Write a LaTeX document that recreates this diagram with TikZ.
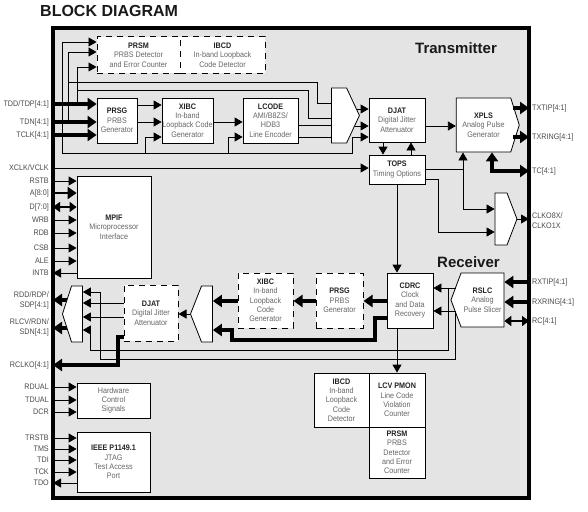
\documentclass[tikz,border=0pt]{standalone}
\usepackage{fontspec}
\setmainfont{Liberation Sans}[FakeStretch=0.9]
\newfontfamily\headfont{Liberation Sans}
\usetikzlibrary{arrows.meta,positioning,calc,shapes.symbols}
\definecolor{bdfill}{HTML}{E4E4E4}
\definecolor{bdpin}{HTML}{4A4A4A}
\definecolor{bddesc}{HTML}{666666}
\definecolor{bdhead}{HTML}{222222}
\newcommand{\bhd}[1]{{\color{bdhead}\bfseries #1}}

\begin{document}
\begin{tikzpicture}[x=1pt, y=-1pt,
  blk/.style={draw=black, line width=0.8pt, fill=white, inner sep=0pt,
    align=center, font=\fontsize{8}{9.3}\selectfont, text=bddesc},
  dblk/.style={blk, line width=1pt, dash pattern=on 6pt off 5pt},
  mux/.style={signal, draw=black, line width=0.8pt, fill=white, inner sep=0pt},
  pinl/.style={anchor=east, inner sep=0pt, align=right,
    font=\fontsize{8}{10}\selectfont, text=bdpin},
  pinr/.style={pinl, anchor=west, align=left},
  wire/.style={line width=0.8pt},
  arr/.style={wire, -{Triangle[length=8pt,width=9pt]}},
  bus/.style={line width=3.6pt},
  busarr/.style={bus, -{Triangle[length=9pt,width=12pt]}},
  bibus/.style={line width=2.6pt, {Triangle[length=7pt,width=10pt]}-{Triangle[length=7pt,width=10pt]}},
]
\useasboundingbox (0,0) rectangle (588,511);

%% ---- chip outline and headings ----
\node[draw=black, line width=4.5pt, fill=bdfill, inner sep=0pt, outer sep=0pt,
  minimum width=476pt, minimum height=470pt] (chip) at (291,263) {};
\node[anchor=base west, inner sep=0pt, font=\headfont\bfseries\fontsize{16}{16}\selectfont,
  text=black!90] (title) at (40,17) {BLOCK DIAGRAM};
\node[anchor=base west, inner sep=0pt, font=\headfont\bfseries\fontsize{15}{15}\selectfont,
  text=black!90] (txhd) at (415,53) {Transmitter};
\node[anchor=base west, inner sep=0pt, font=\headfont\bfseries\fontsize{15}{15}\selectfont,
  text=black!90] (rxhd) at (437,267) {Receiver};

%% ---- transmitter blocks ----
\node[dblk, minimum width=83pt, minimum height=36pt] (tprsm) at (138.5,55) {\bhd{PRSM}\\PRBS Detector\\and Error Counter};
\node[dblk, minimum width=85pt, minimum height=36pt] (tibcd) at (222.5,55) {\bhd{IBCD}\\In-band Loopback\\Code Detector};
\node[blk, minimum width=40pt, minimum height=45pt] (tprsg) at (117,120.5) {\bhd{PRSG}\\PRBS\\Generator};
\node[blk, minimum width=51pt, minimum height=45pt] (txibc) at (187.5,120.5) {\bhd{XIBC}\\In-band\\Loopback Code\\Generator};
\node[blk, minimum width=55pt, minimum height=45pt] (tlcode) at (270.5,120.5) {\bhd{LCODE}\\AMI/B8ZS/\\HDB3\\Line Encoder};
\node[mux, signal to=east, signal pointer angle=130, minimum width=28pt, minimum height=55pt] (txmux) at (339,115.5) {};
\node[blk, minimum width=56pt, minimum height=44pt] (tdjat) at (397,120) {\bhd{DJAT}\\Digital Jitter\\Attenuator};
\node[blk, signal, signal to=east, signal pointer angle=145, minimum width=63pt, minimum height=54pt] (xpls) at (483.5,125) {\bhd{XPLS}\\Analog Pulse\\Generator};
\node[blk, minimum width=56pt, minimum height=29pt] (tops) at (397,169.5) {\bhd{TOPS}\\Timing Options};
\node[mux, signal to=east, signal pointer angle=138, minimum width=22pt, minimum height=52pt] (ckmux) at (501,219) {};

%% ---- receiver blocks ----
\node[blk, minimum width=46pt, minimum height=55pt] (cdrc) at (410,300.5) {\bhd{CDRC}\\Clock\\and Data\\Recovery};
\node[blk, signal, signal to=west, signal pointer angle=139, minimum width=53pt, minimum height=54pt] (rslc) at (482.5,300) {\bhd{RSLC}\\Analog\\Pulse Slicer};
\node[dblk, minimum width=47pt, minimum height=55pt] (rprsg) at (339.5,300.5) {\bhd{PRSG}\\PRBS\\Generator};
\node[dblk, minimum width=55pt, minimum height=55pt] (rxibc) at (265.5,300.5) {\bhd{XIBC}\\In-band\\Loopback\\Code\\Generator};
\node[mux, signal to=west, signal pointer angle=137, minimum width=22pt, minimum height=56pt] (rmux2) at (207,314) {};
\node[dblk, minimum width=54pt, minimum height=56pt] (rdjat) at (151,313) {\bhd{DJAT}\\Digital Jitter\\Attenuator};
\node[mux, signal to=west, signal pointer angle=144, minimum width=20pt, minimum height=56pt] (rmux1) at (77,314) {};
\node[blk, minimum width=55pt, minimum height=54pt] (ibcd) at (341.5,400) {\bhd{IBCD}\\In-band\\Loopback\\Code\\Detector};
\node[blk, minimum width=56pt, minimum height=54pt] (lcv) at (397,400) {\bhd{LCV PMON}\\Line Code\\Violation\\Counter};
\node[blk, minimum width=56pt, minimum height=51pt] (rprsm) at (397,452.5) {\bhd{PRSM}\\PRBS\\Detector\\and Error\\Counter};

%% ---- control blocks ----
\node[blk, minimum width=74pt, minimum height=102pt] (mpif) at (114,227) {\bhd{MPIF}\\Microprocessor\\Interface};
\node[blk, minimum width=73pt, minimum height=35pt] (hwc) at (113.5,400.5) {Hardware\\Control\\Signals};
\node[blk, minimum width=73pt, minimum height=60pt] (jtag) at (113.5,462) {\bhd{IEEE P1149.1}\\JTAG\\Test Access\\Port};

%% ---- pin labels ----
\node[pinl] (ltdd)  at (49,104) {TDD/TDP[4:1]};
\node[pinl] (ltdn)  at (49,122) {TDN[4:1]};
\node[pinl] (ltclk) at (49,135) {TCLK[4:1]};
\node[pinl] (lxclk) at (49,168) {XCLK/VCLK};
\node[pinl] (lrdd)  at (49,300) {RDD/RDP/\\SDP[4:1]};
\node[pinl] (lrlcv) at (49,327) {RLCV/RDN/\\SDN[4:1]};
\node[pinl] (lrclko) at (49,365) {RCLKO[4:1]};
\node[pinr] (rtxtip)  at (532,108) {TXTIP[4:1]};
\node[pinr] (rtxring) at (532,137) {TXRING[4:1]};
\node[pinr] (rtc)     at (532,171) {TC[4:1]};
\node[pinr] (rclko)   at (532,220.5) {CLKO8X/\\CLKO1X};
\node[pinr] (rrxtip)  at (532,282) {RXTIP[4:1]};
\node[pinr] (rrxring) at (532,302) {RXRING[4:1]};
\node[pinr] (rrc)     at (532,321) {RC[4:1]};

%% ---- transmitter inputs and taps ----
\draw[busarr] (chip.west |- ltdd)  -- (tprsg.west |- ltdd);
\draw[busarr] (chip.west |- ltdn)  -- (tprsg.west |- ltdn);
\draw[busarr] (chip.west |- ltclk) -- (tprsg.west |- ltclk);
\coordinate (tapc) at (62,153);
\coordinate (tapn) at (68,0 |- ltdn);
\coordinate (tapd) at (77,0 |- ltdd);
\draw[arr] (tapc) |- ([yshift=13pt]tprsm.west);
\draw[arr] (tapn) |- ([yshift=3pt]tprsm.west);
\draw[arr] (tapd) |- ([yshift=-12pt]tprsm.west);
\draw[wire] (tapn |- 0,82) -- (317,82) -- (317,103) -- (txmux.west |- 0,103);
\draw[wire] (tapd |- 0,90) -- (308,90) -- (308,118) -- (txmux.west |- 0,118);
\draw[arr] (tapc) -| (352,137) -- (tdjat.west |- 0,137);
\draw[arr] (145,0 |- tapc) |- (txibc.west |- 0,137);
\draw[arr] (228,0 |- tapc) |- (tlcode.west |- 0,137);

%% ---- transmitter data path ----
\draw[arr] (tprsg.east |- 0,105) -- (txibc.west |- 0,105);
\draw[arr] (tprsg.east |- 0,122) -- (txibc.west |- 0,122);
\draw[arr] (txibc.east |- 0,122) -- (tlcode.west |- 0,122);
\draw[wire] (tlcode.east |- 0,125) -- (txmux.west |- 0,125);
\draw[wire] (tlcode.east |- 0,137) -- (txmux.west |- 0,137);
\draw[arr] ([xshift=-3pt]txmux.east |- 0,109) -- (tdjat.west |- 0,109);
\draw[arr] ([xshift=-5pt]txmux.east |- 0,126) -- (tdjat.west |- 0,126);
\draw[arr] (tdjat.east |- 0,126) -- (xpls.west |- 0,126);
\draw[busarr] ([xshift=-7pt]xpls.east |- rtxtip) -- (chip.east |- rtxtip);
\draw[busarr] ([xshift=-7pt]xpls.east |- rtxring) -- (chip.east |- rtxring);
\draw[bus, {Triangle[length=9pt,width=12pt]}-{Triangle[length=9pt,width=12pt]}]
  (xpls.south -| 492,0) |- (chip.east |- rtc);

%% ---- timing ----
\draw[arr] (tdjat.south -| 383,0) -- (tops.north -| 383,0);
\draw[arr] (tops.north -| 411,0) -- (tdjat.south -| 411,0);
\draw[arr] (chip.west |- lxclk) -- (tops.west |- lxclk);
\coordinate (ckbr) at (463,169);
\draw[wire] (tops.east |- ckbr) -- (ckbr);
\draw[arr] (ckbr) -- (xpls.south -| ckbr);
\draw[arr] (ckbr) |- (ckmux.west |- 0,209);
\draw[arr] (tops.east |- 0,179) -| (438,232) -- (ckmux.west |- 0,232);
\draw[arr] (ckmux.east) -- (chip.east |- ckmux.east);
\draw[arr] (tops.south -| 397,0) -- (cdrc.north -| 397,0);

%% ---- receiver path ----
\draw[busarr] (chip.east |- rrxtip) -- (rslc.east |- rrxtip);
\draw[busarr] (chip.east |- rrxring) -- (rslc.east |- rrxring);
\draw[bibus] (chip.east |- rrc) -- (rslc.east |- rrc);
\draw[arr] ([xshift=5pt]rslc.west |- 0,288) -- (cdrc.east |- 0,288);
\draw[arr] ([xshift=4pt]rslc.west |- 0,311) -- (cdrc.east |- 0,311);
\coordinate (rb1) at (448,288);
\coordinate (rb2) at (455,311);
\draw[arr] (rb1) |- (90,350) |- (rmux1.east |- 0,330);
\draw[arr] (rb2) |- (100,359) |- (rmux1.east |- 0,292);
\draw[busarr] (cdrc.west |- 0,301) -- (rprsg.east |- 0,301);
\draw[busarr] (rprsg.west |- 0,301) -- (rxibc.east |- 0,301);
\draw[busarr] (rxibc.west |- 0,301) -- (rmux2.east |- 0,301);
\draw[busarr] (cdrc.west |- 0,318) -- (375,318) -- (375,340) -- (232,340) -- (232,330) -- (rmux2.east |- 0,330);
\draw[arr] (rmux2.west) -- (rdjat.east |- rmux2.west);
\draw[arr] (rdjat.west |- 0,303) -- (rmux1.east |- 0,303);
\draw[arr] (rdjat.west |- 0,317) -- (rmux1.east |- 0,317);
\draw[busarr] ([xshift=5pt]rmux1.west |- 0,300) -- (chip.west |- 0,300);
\draw[busarr] ([xshift=5pt]rmux1.west |- 0,328) -- (chip.west |- 0,328);
\draw[busarr] (rdjat.west |- 0,337) -- (118,337) -- (118,365) -- (chip.west |- lrclko);
\draw[arr] (cdrc.south -| 397,0) -- (lcv.north -| 397,0);

%% ---- microprocessor, hardware and JTAG pins ----
\foreach \nm/\yy in {RSTB/181,WRB/220,RDB/233,CSB/248,ALE/261}{
  \node[pinl] (p\nm) at (49,\yy) {\nm};
  \draw[arr] (chip.west |- p\nm) -- (mpif.west |- p\nm);
}
\node[pinl] (paddr) at (49,193) {A[8:0]};
\node[pinl] (pdata) at (49,207) {D[7:0]};
\node[pinl] (pintb) at (49,273) {INTB};
\draw[busarr, line width=2.6pt] (chip.west |- paddr) -- (mpif.west |- paddr);
\draw[bibus] (chip.west |- pdata) -- (mpif.west |- pdata);
\draw[arr] (mpif.west |- pintb) -- (chip.west |- pintb);
\foreach \nm/\yy in {RDUAL/387,TDUAL/400,DCR/412}{
  \node[pinl] (p\nm) at (49,\yy) {\nm};
  \draw[arr] (chip.west |- p\nm) -- (hwc.west |- p\nm);
}
\foreach \nm/\yy in {TRSTB/438,TMS/449,TDI/460,TCK/472}{
  \node[pinl] (p\nm) at (49,\yy) {\nm};
  \draw[arr] (chip.west |- p\nm) -- (jtag.west |- p\nm);
}
\node[pinl] (ptdo) at (49,483) {TDO};
\draw[arr] (jtag.west |- ptdo) -- (chip.west |- ptdo);

\end{tikzpicture}
\end{document}
